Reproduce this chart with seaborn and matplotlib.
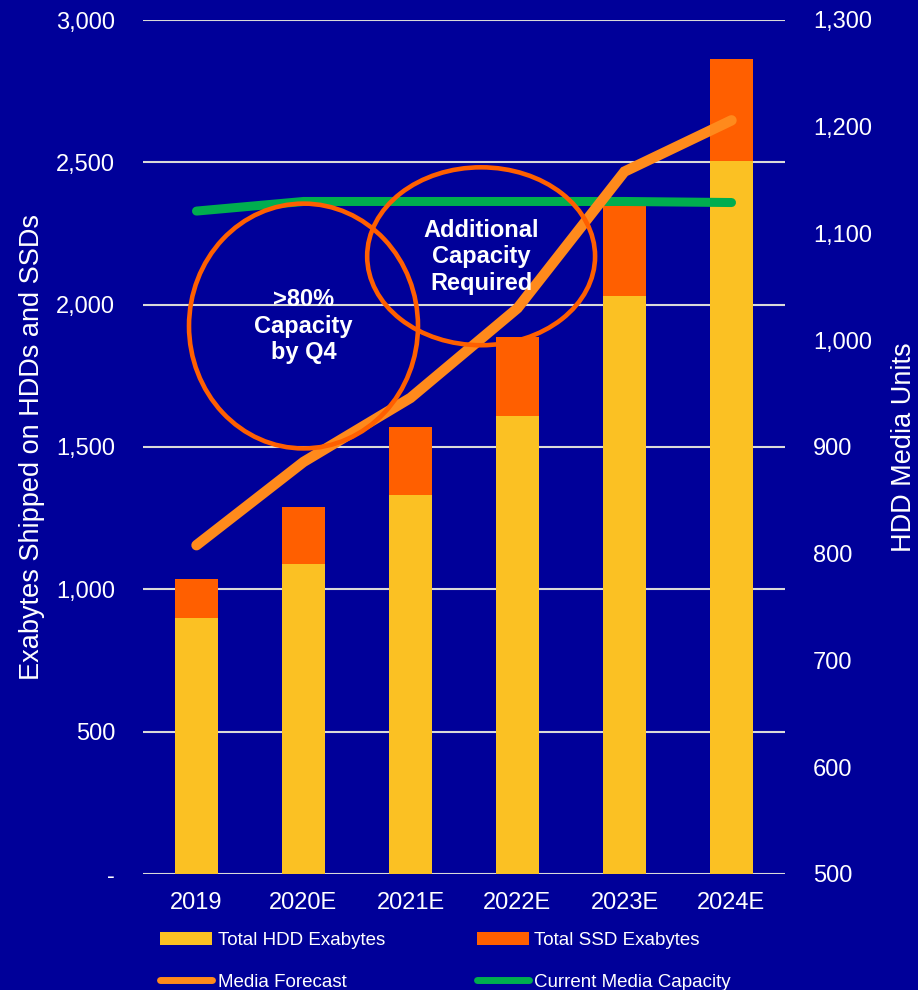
import matplotlib
matplotlib.use("Agg")
import matplotlib.pyplot as plt
import seaborn as sns
import pandas as pd
import numpy as np
from matplotlib.patches import Ellipse, Patch
from matplotlib.lines import Line2D
from matplotlib.ticker import FuncFormatter

years = ["2019", "2020E", "2021E", "2022E", "2023E", "2024E"]
hdd_eb = [900, 1090, 1330, 1610, 2030, 2505]
ssd_eb = [136, 199, 240, 276, 315, 358]
media_forecast = [808, 886, 946, 1030, 1158, 1206]
media_capacity = [1121, 1130, 1130, 1130, 1130, 1129]

BG = "#000099"
HDD_C = "#FBC123"
SSD_C = "#FF5F00"
FC_C = "#FF8A1C"
CAP_C = "#00AD4F"
GRID_C = "#D9D9D9"

df = pd.DataFrame({"Year": years, "HDD": hdd_eb, "SSD": ssd_eb})
df["Total"] = df["HDD"] + df["SSD"]

sns.set_style("white")
plt.rcParams["font.family"] = ["Liberation Sans", "DejaVu Sans"]

fig = plt.figure(figsize=(9.18, 9.9), dpi=100, facecolor=BG)
ax = fig.add_axes([143 / 918, 1 - 874 / 990, (785 - 143) / 918, (874 - 20) / 990])
ax.set_facecolor(BG)

sns.barplot(data=df, x="Year", y="Total", color=SSD_C, saturation=1, width=0.41, ax=ax,
            zorder=2, linewidth=0, edgecolor="none")
sns.barplot(data=df, x="Year", y="HDD", color=HDD_C, saturation=1, width=0.41, ax=ax,
            zorder=2, linewidth=0, edgecolor="none")

ax.set_ylim(0, 3000)
ax.set_xlim(-0.5, 5.5)
ax.set_yticks(np.arange(0, 3001, 500))
ax.yaxis.set_major_formatter(FuncFormatter(lambda v, p: "-" if v == 0 else f"{v:,.0f}"))
ax.grid(axis="y", color=GRID_C, lw=1.5, zorder=0)
ax.set_axisbelow(True)
for s in ax.spines.values():
    s.set_visible(False)
ax.tick_params(axis="both", length=0, colors="white", labelsize=17)
ax.tick_params(axis="y", pad=20)
ax.tick_params(axis="x", pad=13)
ax.set_xlabel("")
ax.set_ylabel("Exabytes Shipped on HDDs and SSDs", color="white", fontsize=19.5, labelpad=8)

ax2 = ax.twinx()
ax2.set_ylim(500, 1300)
ax2.set_yticks(np.arange(500, 1301, 100))
ax2.yaxis.set_major_formatter(FuncFormatter(lambda v, p: f"{v:,.0f}"))
for s in ax2.spines.values():
    s.set_visible(False)
ax2.tick_params(axis="y", length=0, colors="white", labelsize=17, pad=20)
ax2.set_ylabel("HDD Media Units", color="white", fontsize=19.5, rotation=90, labelpad=14)

xs = np.arange(len(years))
sns.lineplot(x=xs, y=media_capacity, ax=ax2, color=CAP_C, lw=6.5, solid_capstyle="round")
sns.lineplot(x=xs, y=media_forecast, ax=ax2, color=FC_C, lw=7.5, solid_capstyle="round",
             solid_joinstyle="miter")
ax2.set_xlim(-0.5, 5.5)

# annotation circles
for cx, cy, w, h in [(1.0, 1925, 2.14, 860), (2.66, 2170, 2.13, 625)]:
    ax2.add_patch(Ellipse((cx, cy), w, h, transform=ax.transData, fill=False,
                          ec=SSD_C, lw=3.3, zorder=5))
ax2.text(1.0, 1925, ">80%\nCapacity\nby Q4", transform=ax.transData, ha="center", va="center",
         color="white", fontsize=17, fontweight="bold", linespacing=1.2, zorder=6)
ax2.text(2.66, 2168, "Additional\nCapacity\nRequired", transform=ax.transData, ha="center",
         va="center", color="white", fontsize=17, fontweight="bold", linespacing=1.2, zorder=6)

handles = [
    Patch(facecolor=HDD_C, edgecolor="none"),
    Line2D([0], [0], color=FC_C, lw=5, solid_capstyle="round"),
    Patch(facecolor=SSD_C, edgecolor="none"),
    Line2D([0], [0], color=CAP_C, lw=5, solid_capstyle="round"),
]
labels = ["Total HDD Exabytes", "Media Forecast", "Total SSD Exabytes", "Current Media Capacity"]
leg = fig.legend(handles, labels, ncol=2, loc="upper left", bbox_to_anchor=(152.5 / 918, 1 - 924 / 990),
                 frameon=False, fontsize=13.5, handlelength=2.77, handletextpad=0.3,
                 labelspacing=1.34, columnspacing=4.9, borderaxespad=0)
for t in leg.get_texts():
    t.set_color("white")

fig.savefig("out.png", dpi=100, facecolor=BG)
